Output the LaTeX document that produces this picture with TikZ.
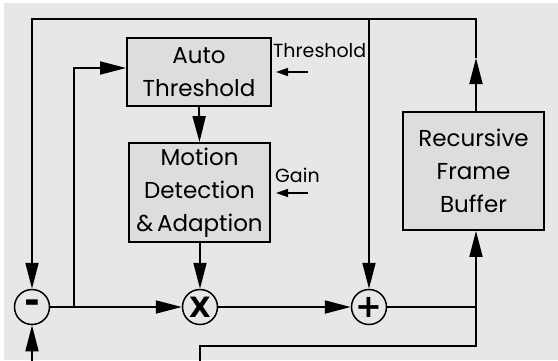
\documentclass[tikz,border=0pt]{standalone}
\usepackage{fontspec}
\setmainfont{Poppins}
\newfontfamily\symfont{DejaVu Sans}
\usetikzlibrary{arrows.meta,calc}
\definecolor{bgc}{RGB}{230,231,233}
\definecolor{boxc}{RGB}{220,221,223}
\begin{document}
\begin{tikzpicture}[x=1pt,y=-1pt,
  blk/.style={draw,line width=1.8pt,fill=boxc,align=center,inner sep=0pt,
    font=\fontsize{23}{33}\selectfont},
  op/.style={draw,circle,line width=1.5pt,fill=bgc,minimum size=35pt,inner sep=0pt,
    font=\symfont\bfseries},
  wire/.style={line width=1.8pt},
  arr/.style={wire,-{Triangle[length=26pt,width=13pt]}},
  sarr/.style={line width=1.3pt,-{Triangle[length=12pt,width=8pt]}},
  lab/.style={font=\fontsize{19}{20}\selectfont,inner sep=0pt,anchor=west}]
\useasboundingbox (0,0) rectangle (558,360);
\fill[white] (0,0) rectangle (558,360);
\fill[bgc] (4,3) rectangle (558,360);
% blocks
\node[blk,minimum width=144pt,minimum height=68pt] (at) at (199,72) {Auto\\Threshold};
\node[blk,minimum width=141pt,minimum height=99pt] (md) at (199.5,192.5) {Motion\\Detection\\\&\,Adaption};
\node[blk,minimum width=141pt,minimum height=118pt] (rfb) at (473.5,171) {Recursive\\Frame\\Buffer};
% operators
\node[op] (mi) at (32,307) {\fontsize{38}{38}\selectfont -};
\node[op] (mu) at (200,307) {\fontsize{28}{28}\selectfont X};
\node[op] (pl) at (369,307) {\fontsize{32}{32}\selectfont +};
% labels
\node[lab] (thl) at (273,51) {Threshold};
\node[lab] (gl) at (275,175) {Gain};
\coordinate (ths) at (308,72);
\coordinate (the) at (276,72);
\coordinate (gs) at (308,193);
\coordinate (ge) at (276,193);
\draw[sarr] (ths) -- (the);
\draw[sarr] (gs) -- (ge);
% coordinates
\coordinate (tl) at (32,19);
\coordinate (tj) at (369,19);
\coordinate (tr) at (476,19);
\coordinate (ra) at (476,58);
\coordinate (lj) at (74,307);
\coordinate (lt) at (74,68);
\coordinate (rj) at (476,307);
\coordinate (rb) at (476,346);
\coordinate (bb) at (200,346);
\coordinate (bo) at (200,361);
\coordinate (mo) at (32,361);
% connectors
\draw[arr] (rfb.north -| ra) -- (ra);
\draw[arr] (ra) -- (tr) -- (tl) -- (mi.north);
\draw[arr] (tj) -- (pl.north);
\draw[arr] (mo) -- (mi.south);
\draw[arr] (mi.east) -- (mu.west);
\draw[arr] (lj) -- (lt) -- (lt -| at.west);
\draw[arr] (at.south) -- (md.north);
\draw[arr] (md.south -| mu.north) -- (mu.north);
\draw[arr] (mu.east) -- (pl.west);
\draw[wire] (pl.east) -- (rj) -- (rb) -- (bb) -- (bo);
\draw[arr] (rj) -- (rj |- rfb.south);
\end{tikzpicture}
\end{document}
